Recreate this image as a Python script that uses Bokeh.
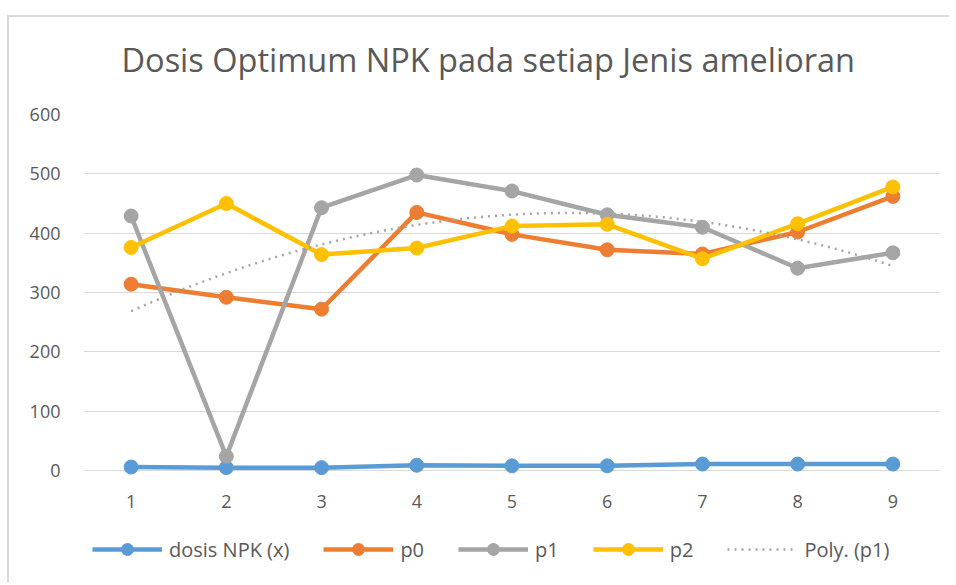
import numpy as np
from bokeh.plotting import figure
from bokeh.layouts import column
from bokeh.models import Range1d, FixedTicker, Legend, LegendItem, Title
from bokeh.embed import file_html
from bokeh.resources import INLINE

# ---- data ----
x_cats = [1, 2, 3, 4, 5, 6, 7, 8, 9]
dosis_npk = [6, 5, 5, 9, 8, 8, 11, 11, 11]
p0 = [314, 292, 272, 435, 398, 372, 365, 402, 462]
p1 = [429, 24, 443, 498, 471, 431, 410, 341, 367]
p2 = [376, 450, 364, 375, 412, 415, 357, 416, 478]
y_ticks = [0, 100, 200, 300, 400, 500, 600]
title_text = "Dosis Optimum NPK pada setiap Jenis amelioran"

series = [
    ("dosis NPK (x)", dosis_npk, "#5B9BD5"),
    ("p0", p0, "#ED7D31"),
    ("p1", p1, "#A5A5A5"),
    ("p2", p2, "#FFC000"),
]

# Excel-style polynomial (order 2) trendline of p1
coef = np.polyfit(x_cats, p1, 2)
xs_trend = np.linspace(x_cats[0], x_cats[-1], 200)
ys_trend = np.polyval(coef, xs_trend)

FONT = "Open Sans"
TXT = "#595959"
TREND_DASH = "2 5"

ox, oy = 9, 17  # page origin of the layout content
frame_l, frame_r, frame_t, frame_b = 83, 940, 114, 479
W = 940
top_pad = 12
main_top = frame_t - top_pad
main_bottom = 530
H0 = main_top - oy            # title strip
H1 = main_bottom - main_top   # plot
H2 = 52                       # legend strip

# ---- title strip ----
t = figure(width=W, height=H0, output_backend="svg", toolbar_location=None,
           x_range=Range1d(0, 1), y_range=Range1d(0, 1),
           x_axis_type=None, y_axis_type=None,
           min_border_left=0, min_border_right=0, min_border_top=0, min_border_bottom=0)
t.outline_line_color = None
t.xgrid.grid_line_color = None
t.ygrid.grid_line_color = None
t.border_fill_color = "white"
t.title = Title(text=title_text, align="left", offset=38, standoff=34,
                text_font=FONT, text_font_size="32.5px", text_font_style="normal",
                text_color=TXT)

# ---- main plot ----
p = figure(width=W, height=H1, output_backend="svg", toolbar_location=None,
           x_range=Range1d(0.5, 9.5), y_range=Range1d(-15, 600),
           min_border_left=frame_l - ox, min_border_right=ox + W - frame_r,
           min_border_top=top_pad, min_border_bottom=main_bottom - frame_b)
p.outline_line_color = None
p.background_fill_color = "white"
p.border_fill_color = "white"

p.xgrid.grid_line_color = None
p.ygrid.grid_line_color = "#D9D9D9"
p.ygrid.grid_line_width = 1
p.yaxis.ticker = FixedTicker(ticks=y_ticks)
p.xaxis.ticker = FixedTicker(ticks=x_cats)
for ax in (p.xaxis, p.yaxis):
    ax.axis_line_color = None
    ax.major_tick_line_color = None
    ax.minor_tick_line_color = None
    ax.major_tick_out = 0
    ax.major_label_text_font = FONT
    ax.major_label_text_font_size = "18px"
    ax.major_label_text_color = TXT
p.yaxis.major_label_standoff = 23
p.xaxis.major_label_standoff = 15

for name, vals, col in series:
    p.line(x_cats, vals, line_color=col, line_width=4.5)
    p.scatter(x_cats, vals, size=14, fill_color=col, line_color=col, marker="circle")
p.line(xs_trend, ys_trend, line_color="#A5A5A5", line_width=2.5, line_dash=TREND_DASH)

# ---- legend strip (same series; its view range keeps the marks out of sight) ----
q = figure(width=W, height=H2, output_backend="svg", toolbar_location=None,
           x_range=Range1d(0.5, 9.5), y_range=Range1d(5000, 6000),
           x_axis_type=None, y_axis_type=None,
           min_border_left=0, min_border_right=0, min_border_top=0, min_border_bottom=0)
q.outline_line_color = None
q.xgrid.grid_line_color = None
q.ygrid.grid_line_color = None
q.background_fill_color = "white"
q.border_fill_color = "white"

items = []
for name, vals, col in series:
    ln = q.line(x_cats, vals, line_color=col, line_width=4.5)
    sc = q.scatter(x_cats, vals, size=14, fill_color=col, line_color=col, marker="circle")
    items.append(LegendItem(label=name, renderers=[ln, sc]))
tr = q.line(xs_trend, ys_trend, line_color="#A5A5A5", line_width=2.5, line_dash=TREND_DASH)
items.append(LegendItem(label="Poly. (p1)", renderers=[tr]))

legend = Legend(items=items, orientation="horizontal", location=(9, 18),
                glyph_width=70, glyph_height=30, label_height=30,
                label_standoff=7, spacing=34, padding=0, margin=0,
                border_line_color=None, background_fill_alpha=0,
                label_text_font=FONT, label_text_font_size="20px",
                label_text_color=TXT)
q.add_layout(legend, "center")

layout = column(t, p, q, spacing=0)
layout.styles = {"border-left": "2px solid #D9D9D9", "border-top": "2px solid #D9D9D9",
                 "margin-left": "7px", "margin-top": "15px"}

open("out.html", "w").write(file_html(layout, INLINE))
